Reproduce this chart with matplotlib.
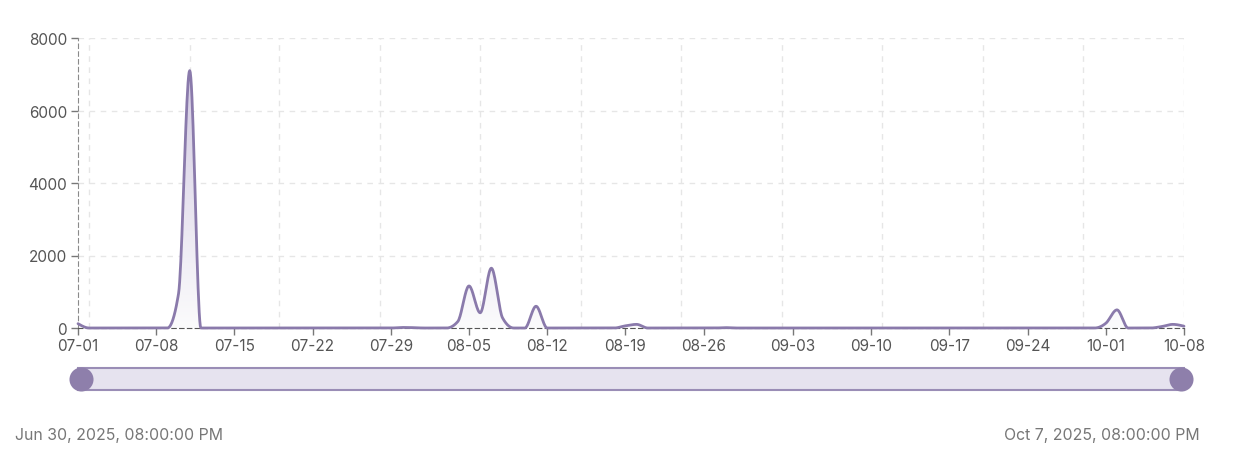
import datetime as dt
import numpy as np
import matplotlib
matplotlib.use("Agg")
import matplotlib.pyplot as plt
import matplotlib.dates as mdates
from matplotlib.colors import LinearSegmentedColormap

# daily counts starting 07-01
start = dt.datetime(2025, 7, 1)
counts = [
    120, 0, 0, 0, 0, 0, 0, 0, 0, 950,        # 07-01 .. 07-10
    7100, 0, 0, 0, 0, 0, 0, 0, 0, 0,          # 07-11 .. 07-20
    0, 0, 0, 0, 0, 0, 0, 0, 0, 15,            # 07-21 .. 07-30
    10, 0, 0, 0, 180, 1160, 420, 1650, 280, 0,  # 07-31 .. 08-09
    0, 600, 0, 0, 0, 0, 0, 0, 0, 60,          # 08-10 .. 08-19
    100, 0, 0, 0, 0, 0, 0, 0, 10, 0,          # 08-20 .. 08-29
    0, 0, 0, 0, 0, 0, 0, 0, 0, 0,             # 08-30 .. 09-08
    0, 0, 0, 0, 0, 0, 0, 0, 0, 0,             # 09-09 .. 09-18
    0, 0, 0, 0, 0, 0, 0, 0, 0, 0,             # 09-19 .. 09-28
    0, 0, 130, 500, 0, 0, 0, 40, 100, 50,     # 09-29 .. 10-08
]
tick_labels = ["07-01", "07-08", "07-15", "07-22", "07-29", "08-05", "08-12",
               "08-19", "08-26", "09-03", "09-10", "09-17", "09-24", "10-01", "10-08"]
grid_days = [1, 10, 18, 27, 36, 45, 54, 63, 72, 81, 90, 99]
y_ticks = [0, 2000, 4000, 6000, 8000]
range_start = "Jun 30, 2025, 08:00:00 PM"
range_end = "Oct 7, 2025, 08:00:00 PM"

line_color = "#8a7aab"
plt.rcParams["font.family"] = ["Inter", "DejaVu Sans"]


def monotone(x, y, n=20):
    # monotone cubic (like d3 curveMonotoneX)
    x = np.asarray(x, float)
    y = np.asarray(y, float)
    h = np.diff(x)
    s = np.diff(y) / h
    m = np.zeros_like(y)
    for i in range(1, len(y) - 1):
        p = (s[i - 1] * h[i] + s[i] * h[i - 1]) / (h[i - 1] + h[i])
        m[i] = (np.sign(s[i - 1]) + np.sign(s[i])) * min(abs(s[i - 1]), abs(s[i]), 0.5 * abs(p))
    m[0] = (3 * s[0] - m[1]) / 2
    m[-1] = (3 * s[-1] - m[-2]) / 2
    xs, ys = [], []
    for i in range(len(h)):
        t = np.linspace(0, 1, n, endpoint=False)
        h00 = 2 * t**3 - 3 * t**2 + 1
        h10 = t**3 - 2 * t**2 + t
        h01 = -2 * t**3 + 3 * t**2
        h11 = t**3 - t**2
        xs.append(x[i] + t * h[i])
        ys.append(h00 * y[i] + h10 * h[i] * m[i] + h01 * y[i + 1] + h11 * h[i] * m[i + 1])
    xs.append([x[-1]])
    ys.append([y[-1]])
    return np.concatenate(xs), np.concatenate(ys)


dates = [start + dt.timedelta(days=i) for i in range(len(counts))]
xnum = mdates.date2num(dates)
xs, ys = monotone(xnum, counts)

fig = plt.figure(figsize=(12.38, 4.60), dpi=100)
W, H = 1238, 460
ax = fig.add_axes([78 / W, 1 - 329 / H, (1184 - 78) / W, (329 - 39) / H])

# gradient fill under the curve
cmap = LinearSegmentedColormap.from_list("g", ["#fbfbfc", "#d3cbe2"])
grad = np.linspace(0, 1, 256).reshape(-1, 1)
im = ax.imshow(grad, extent=[xnum[0], xnum[-1], 0, max(counts)], origin="lower",
               aspect="auto", cmap=cmap, zorder=1)
poly = ax.fill_between(xs, ys, 0, color="none", lw=0)
im.set_clip_path(poly.get_paths()[0], transform=ax.transData)

ax.plot(xs, ys, color=line_color, lw=2.0, zorder=3, clip_on=False,
        solid_capstyle="round")

ax.set_xlim(xnum[0], xnum[-1])
ax.set_ylim(0, 8000)

# grid
for d in grid_days:
    ax.axvline(xnum[0] + d, color="#e6e6e6", lw=1, ls=(0, (4, 4)), zorder=0)
for v in y_ticks[1:]:
    ax.axhline(v, color="#e6e6e6", lw=1, ls=(0, (4, 4)), zorder=0)

tick_pos = [mdates.date2num(dt.datetime.strptime("2025-" + t, "%Y-%m-%d")) for t in tick_labels]
ax.set_xticks(tick_pos)
ax.set_xticklabels(tick_labels)
ax.set_yticks(y_ticks)
ax.set_yticklabels([str(v) for v in y_ticks])
ax.tick_params(axis="both", colors="#777777", labelcolor="#555555", labelsize=11,
               length=5, width=1)
ax.tick_params(axis="x", pad=2)
ax.tick_params(axis="y", pad=3)

for side in ["top", "right"]:
    ax.spines[side].set_visible(False)
ax.spines["left"].set_color("#8a8a8a")
ax.spines["left"].set_linestyle((0, (4, 3)))
ax.spines["bottom"].set_color("#555555")
ax.spines["bottom"].set_linestyle((0, (4, 3)))
ax.spines["left"].set_zorder(2)
ax.spines["bottom"].set_zorder(2)

# range slider below the chart
sl = fig.add_axes([78 / W, 1 - 391 / H, (1184 - 78) / W, 22 / H])
sl.set_xlim(xnum[0], xnum[-1])
sl.set_ylim(0, 1)
sl.fill_between([xnum[0], xnum[-1]], 0, 1, color="#e6e3ef", lw=0)
sl.plot([xnum[0], xnum[-1]], [1, 1], color="#9a8db6", lw=1.5, clip_on=False)
sl.plot([xnum[0], xnum[-1]], [0, 0], color="#9a8db6", lw=1.5, clip_on=False)
sl.scatter([xnum[0] + 0.3, xnum[-1] - 0.3], [0.5, 0.5], s=300, color="#8e7fab",
           zorder=5, clip_on=False, lw=0)
sl.axis("off")

fig.text(15 / W, 1 - 440 / H, range_start, ha="left", va="baseline",
         fontsize=11.4, color="#777777")
fig.text(1200 / W, 1 - 440 / H, range_end, ha="right", va="baseline",
         fontsize=11.4, color="#777777")

fig.savefig("out.png", dpi=100)
